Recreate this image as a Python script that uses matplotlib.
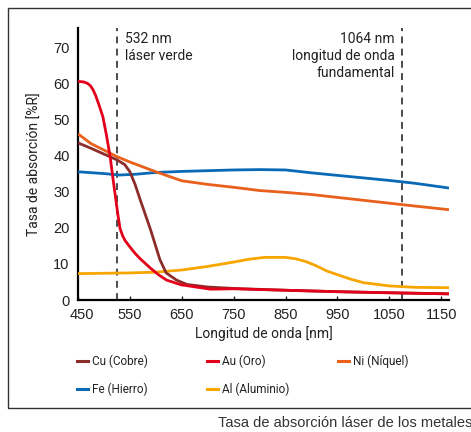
import matplotlib
matplotlib.use("Agg")
import matplotlib.pyplot as plt
from matplotlib.lines import Line2D
from matplotlib.patches import Rectangle
from matplotlib.transforms import ScaledTranslation
from matplotlib import font_manager

names = {f.name for f in font_manager.fontManager.ttflist}
NARROW = ['Liberation Sans Narrow', 'Liberation Sans', 'DejaVu Sans'] if 'Liberation Sans Narrow' in names else ['Roboto', 'Liberation Sans', 'DejaVu Sans']
plt.rcParams['font.family'] = ['Liberation Sans', 'DejaVu Sans']

# ---- data ----
cu_x = [450, 475, 500, 525, 540, 550, 560, 570, 590, 608, 620, 640, 660, 700, 750, 850, 950, 1050, 1165]
cu_y = [43.5, 42.0, 40.4, 38.8, 37.5, 35.5, 32.0, 27.7, 19.4, 11.1, 7.5, 5.5, 4.3, 3.6, 3.2, 2.7, 2.3, 2.0, 1.7]

au_x = [450, 460, 468, 474, 479, 484, 490, 498, 505, 512, 518, 523, 527, 531, 536, 541, 550, 560, 570, 589, 605, 621, 649, 705, 750, 850, 950, 1050, 1165]
au_y = [60.5, 60.4, 60.0, 59.3, 58.2, 56.6, 54.2, 50.7, 45.5, 39.6, 33.0, 27.7, 23.5, 19.8, 17.8, 16.4, 14.7, 12.9, 11.4, 8.9, 7.0, 5.5, 4.2, 3.0, 3.1, 2.7, 2.3, 2.0, 1.7]

ni_x = [450, 475, 500, 525, 550, 600, 650, 700, 750, 800, 850, 900, 950, 1000, 1050, 1100, 1165]
ni_y = [46.0, 43.3, 41.5, 39.7, 38.2, 35.5, 33.0, 32.0, 31.2, 30.3, 29.8, 29.2, 28.4, 27.6, 26.8, 26.0, 25.0]

fe_x = [450, 500, 530, 560, 600, 650, 700, 750, 800, 850, 900, 950, 1000, 1050, 1100, 1165]
fe_y = [35.5, 35.0, 34.6, 34.8, 35.3, 35.6, 35.8, 36.0, 36.1, 36.0, 35.2, 34.5, 33.8, 33.1, 32.3, 31.0]

al_x = [450, 500, 550, 600, 650, 700, 750, 780, 810, 850, 870, 890, 910, 930, 950, 975, 1000, 1050, 1100, 1165]
al_y = [7.3, 7.4, 7.5, 7.7, 8.3, 9.3, 10.5, 11.3, 11.8, 11.8, 11.4, 10.6, 9.4, 8.0, 7.0, 5.8, 4.8, 3.9, 3.5, 3.4]

series = [
    ("Cu (Cobre)", cu_x, cu_y, "#8C2D2A"),
    ("Au (Oro)", au_x, au_y, "#E2001A"),
    ("Ni (Níquel)", ni_x, ni_y, "#E8601C"),
    ("Fe (Hierro)", fe_x, fe_y, "#0A6AB6"),
    ("Al (Aluminio)", al_x, al_y, "#F7A600"),
]
draw_order = ["Al (Aluminio)", "Fe (Hierro)", "Ni (Níquel)", "Cu (Cobre)", "Au (Oro)"]

x_ticks = [450, 550, 650, 750, 850, 950, 1050, 1150]
y_ticks = [0, 10, 20, 30, 40, 50, 60, 70]
laser_lines = [526, 1075]

W, H = 471, 432
fig = plt.figure(figsize=(W / 100, H / 100), dpi=100)
ax = fig.add_axes([78 / W, 1 - 300 / H, (449 - 78) / W, (300 - 28) / H])

lookup = {s[0]: s for s in series}
for z, name in enumerate(draw_order):
    lab, xs, ys, c = lookup[name]
    ax.plot(xs, ys, color=c, lw=2.0, solid_capstyle='butt', solid_joinstyle='round', zorder=3 + z)

for xv in laser_lines:
    ax.axvline(xv, color='#1a1a1a', lw=1.1, ls=(0, (4.5, 3.5)), zorder=2)

ax.set_xlim(450, 1165)
ax.set_ylim(0, 75.3)
ax.set_xticks(x_ticks)
ax.set_yticks(y_ticks)
ax.spines['top'].set_visible(False)
ax.spines['right'].set_visible(False)
ax.spines['left'].set_linewidth(1.6)
ax.spines['bottom'].set_linewidth(1.6)
ax.tick_params(axis='x', direction='in', length=3, width=1, pad=6, labelsize=10.5, colors='#222222')
ax.tick_params(axis='y', length=0, pad=6, labelsize=10.5, colors='#222222')

fig.canvas.draw()
first = ax.get_xticklabels()[0]
first.set_transform(first.get_transform() + ScaledTranslation(4 / 100, 0, fig.dpi_scale_trans))

ax.set_xlabel("Longitud de onda [nm]", family=NARROW, fontsize=10, color='#222222', labelpad=3)
ax.set_ylabel("Tasa de absorción [%R]", family=NARROW, fontsize=10, color='#222222', labelpad=8)

ax.text(0.127, 0.985, "532 nm\nláser verde", transform=ax.transAxes, family=NARROW,
        fontsize=10, color='#222222', ha='left', va='top', linespacing=1.25)
ax.text(0.854, 0.985, "1064 nm\nlongitud de onda\nfundamental", transform=ax.transAxes, family=NARROW,
        fontsize=10, color='#222222', ha='right', va='top', linespacing=1.25)

# outer frame
fig.add_artist(Rectangle((8 / W, 1 - 408 / H), 1.2, (408 - 8) / H, transform=fig.transFigure,
                         fill=False, edgecolor='#333333', lw=1.0))

# legend
cols = [77, 207, 338]
rows = [361, 389]
for i, (lab, xs, ys, c) in enumerate(series):
    cx = cols[i % 3]
    ry = rows[i // 3]
    fig.add_artist(Line2D([cx / W, (cx + 11) / W], [1 - ry / H] * 2, color=c, lw=2.2,
                          transform=fig.transFigure))
    fig.text((cx + 15) / W, 1 - ry / H, lab, family=NARROW, fontsize=8.5, color='#222222',
             ha='left', va='center')

fig.text(218 / W, 1 - 423 / H, "Tasa de absorción láser de los metales", fontsize=10.5,
         color='#333333', ha='left', va='center')

fig.savefig("out.png", dpi=100)
